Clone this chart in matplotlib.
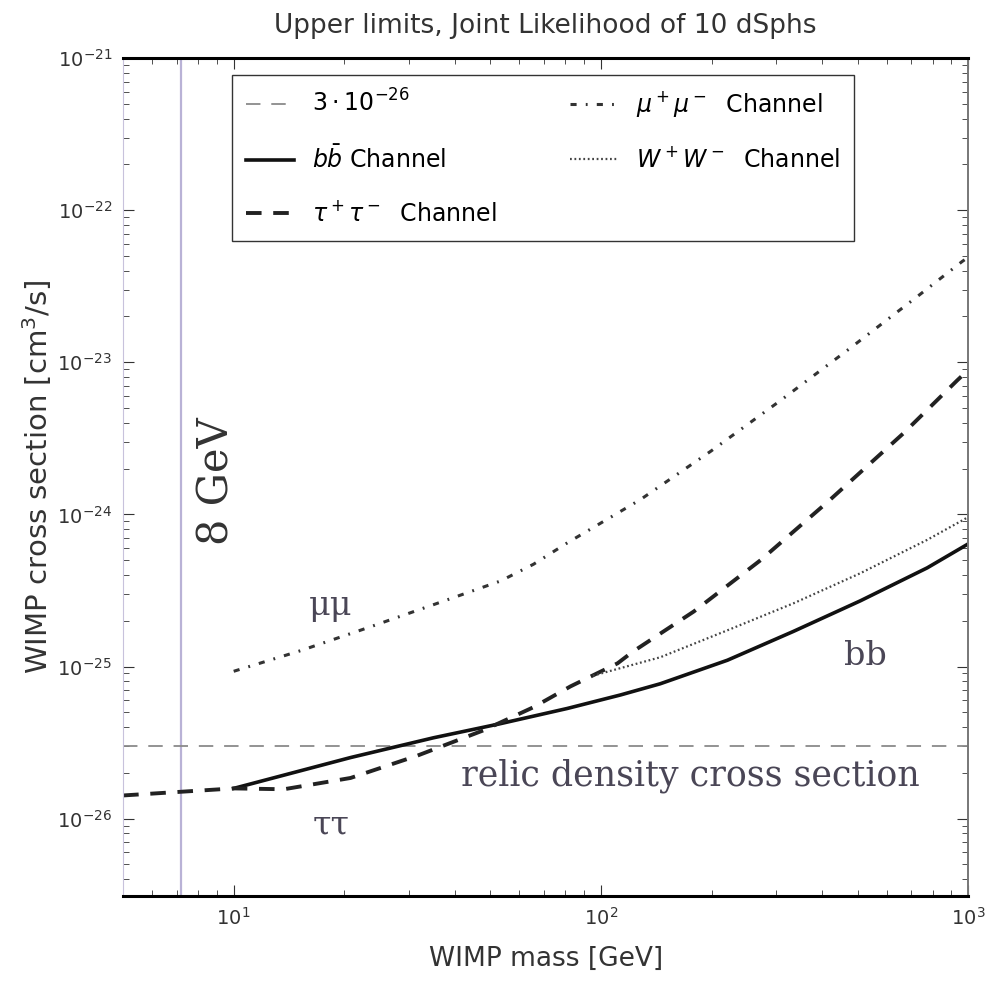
import matplotlib
matplotlib.use("Agg")
import matplotlib.pyplot as plt
import numpy as np

# WIMP mass [GeV] and upper limits [cm^3/s]
bb_mass = [10, 20.8, 35, 53, 81, 113, 145, 221, 334, 508, 773, 1000]
bb_sigma = [1.58e-26, 2.52e-26, 3.4e-26, 4.2e-26, 5.3e-26, 6.5e-26, 7.7e-26,
            1.1e-25, 1.7e-25, 2.7e-25, 4.45e-25, 6.4e-25]

tau_mass = [5, 10, 13.7, 20.8, 31.7, 47.8, 65.5, 82.6, 111, 122, 179, 272, 413, 665, 933, 1000]
tau_sigma = [1.42e-26, 1.58e-26, 1.56e-26, 1.85e-26, 2.6e-26, 3.8e-26, 5.4e-26, 7.4e-26,
             1.05e-25, 1.25e-25, 2.3e-25, 5.0e-25, 1.2e-24, 3.4e-24, 7.6e-24, 8.9e-24]

mu_mass = [10, 15.2, 23.2, 35, 53.3, 65.5, 81, 128, 199, 308, 469, 726, 963, 1000]
mu_sigma = [9.3e-26, 1.27e-25, 1.8e-25, 2.55e-25, 3.65e-25, 4.7e-25, 6.5e-25, 1.25e-24,
            2.6e-24, 5.6e-24, 1.2e-23, 2.7e-23, 4.6e-23, 4.9e-23]

ww_mass = [95, 145, 221, 334, 508, 773, 1000]
ww_sigma = [8.7e-26, 1.15e-25, 1.73e-25, 2.6e-25, 4.1e-25, 6.8e-25, 9.6e-25]

relic = 3e-26
low_mass_cut = 7.2
x_major = [10, 100, 1000]
y_major = [1e-26, 1e-25, 1e-24, 1e-23, 1e-22, 1e-21]

fig = plt.figure(figsize=(9.85, 9.83), dpi=100)
ax = fig.add_axes([0.125, 0.0885, 0.858, 0.8525])
ax.set_xscale("log")
ax.set_yscale("log")
ax.set_xticks(x_major)
ax.set_yticks(y_major)
ax.set_xlim(5, 1000)
ax.set_ylim(3.1e-27, 1e-21)

ax.axvline(low_mass_cut, color="#b9b2d6", lw=1.6)
l_relic, = ax.plot([5, 1000], [relic, relic], color="#8a8a8a", lw=1.3, dashes=(8, 6),
                   label=r"$3 \cdot 10^{-26}$")
l_bb, = ax.plot(bb_mass, bb_sigma, color="#111111", lw=2.6, label=r"$b\bar{b}$ Channel")
l_tau, = ax.plot(tau_mass, tau_sigma, color="#222222", lw=2.8, dashes=(4, 3),
                 label=r"$\tau^+\tau^-$  Channel")
l_mu, = ax.plot(mu_mass, mu_sigma, color="#333333", lw=2.2, dashes=(2, 3, 0.6, 3),
                label=r"$\mu^+\mu^-$  Channel")
l_ww, = ax.plot(ww_mass, ww_sigma, color="#444444", lw=1.6, dashes=(0.8, 1.2),
                label=r"$W^+W^-$  Channel")

ax.tick_params(which="both", direction="in", top=True, right=True, labelsize=14,
               colors="#333333", pad=8)
ax.tick_params(which="major", length=8)
ax.tick_params(which="minor", length=4)
for side in ["top", "bottom"]:
    ax.spines[side].set_linewidth(2.2)
ax.spines["left"].set_color("#c8c2dc")
ax.spines["right"].set_color("#777777")
ax.spines["right"].set_linewidth(1.4)

ax.set_xlabel("WIMP mass [GeV]", fontsize=19, color="#333333", labelpad=12)
ax.set_ylabel(r"WIMP cross section [cm$^3$/s]", fontsize=21, color="#333333", labelpad=2)
ax.set_title("Upper limits, Joint Likelihood of 10 dSphs", fontsize=19, color="#333333", pad=18)

ax.legend(handles=[l_relic, l_bb, l_tau, l_mu, l_ww], ncol=2, loc="upper left",
          bbox_to_anchor=(0.129, 0.98), borderaxespad=0, fontsize=17, labelspacing=1.2,
          columnspacing=3.1, handlelength=2.0, fancybox=False, framealpha=1,
          edgecolor="#333333", borderpad=0.6)

tc = "#4a4656"
ax.text(9.0, 1.66e-24, "8 GeV", rotation=90, fontsize=30, family="serif",
        color="#333333", ha="center", va="center")
ax.text(18.4, 2.5e-25, "μμ", fontsize=24, family="serif", color=tc, ha="center", va="center")
ax.text(18.4, 9.0e-27, "ττ", fontsize=24, family="serif", color=tc, ha="center", va="center")
ax.text(525, 1.17e-25, "bb", fontsize=24, family="serif", color=tc, ha="center", va="center")
ax.text(175, 1.92e-26, "relic density cross section", fontsize=25, family="serif",
        color=tc, ha="center", va="center")

fig.savefig("out.png", dpi=100)
